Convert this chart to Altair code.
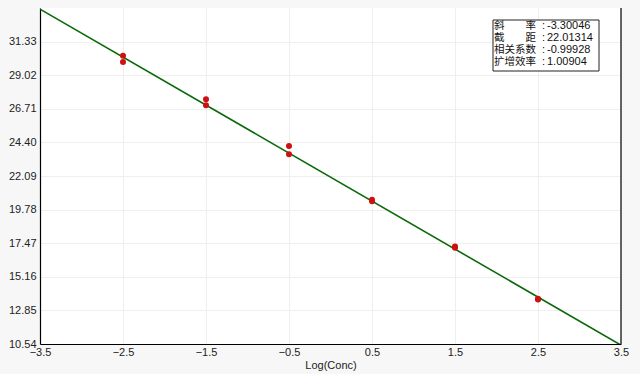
import altair as alt
import pandas as pd

# Standard curve data
log_conc = [-2.5, -2.5, -1.5, -1.5, -0.5, -0.5, 0.5, 0.5, 1.5, 1.5, 2.5, 2.5]
ct_values = [30.36, 29.93, 27.36, 26.95, 24.15, 23.58, 20.45, 20.35, 17.25, 17.15, 13.65, 13.60]

x_ticks = [-3.5, -2.5, -1.5, -0.5, 0.5, 1.5, 2.5, 3.5]
y_ticks = [10.54, 12.85, 15.16, 17.47, 19.78, 22.09, 24.40, 26.71, 29.02, 31.33]
y_domain = [10.54, 33.64]

slope = -3.30046
intercept = 22.01314
stat_labels = ["斜　　率", "截　　距", "相关系数", "扩增效率"]
stat_values = ["-3.30046", "22.01314", "-0.99928", "1.00904"]

pts = pd.DataFrame({"x": log_conc, "y": ct_values})
line_x = [-3.5, 3.5]
line_df = pd.DataFrame({"x": line_x, "y": [slope * v + intercept for v in line_x]})

W, H = 581, 336
FONT = "Liberation Sans"

xscale = alt.Scale(domain=[-3.5, 3.5], nice=False, zero=False)
yscale = alt.Scale(domain=y_domain, nice=False, zero=False)

xaxis = alt.Axis(values=x_ticks, format=".1f", title="Log(Conc)", ticks=False,
                 labelFontSize=11, titleFontSize=11, titleFontWeight="normal",
                 labelColor="#222", titleColor="#222", labelFont=FONT, titleFont=FONT,
                 domainColor="#000", domainWidth=1.2, gridColor="#efefef",
                 labelPadding=2, titlePadding=2, labelOverlap=False, labelFlush=False,
                 labelBound=False)
yaxis = alt.Axis(values=y_ticks, format=".2f", title=None, ticks=False,
                 labelFontSize=11, labelColor="#222", labelFont=FONT,
                 domainColor="#000", domainWidth=1.2, gridColor="#efefef",
                 labelPadding=4, labelOverlap=False, labelFlush=False, labelBound=False)

line = alt.Chart(line_df).mark_line(color="#0a6a0a", strokeWidth=1.6, clip=True).encode(
    x=alt.X("x:Q", scale=xscale, axis=xaxis),
    y=alt.Y("y:Q", scale=yscale, axis=yaxis),
)

points = alt.Chart(pts).mark_point(filled=True, color="#cc1111", size=36, opacity=1).encode(
    x=alt.X("x:Q", scale=xscale, axis=xaxis),
    y=alt.Y("y:Q", scale=yscale, axis=yaxis),
)

right_border = alt.Chart(pd.DataFrame({"x": [3.5]})).mark_rule(color="#000", strokeWidth=1.2).encode(
    x=alt.X("x:Q", scale=xscale, axis=xaxis)
)

box = alt.Chart(pd.DataFrame({"a": [0]})).mark_rect(
    fill="white", stroke="#222", strokeWidth=1
).encode(
    x=alt.value(453), x2=alt.value(559), y=alt.value(12), y2=alt.value(63)
)

stats = pd.DataFrame({"label": stat_labels, "value": stat_values})
stats["ypix"] = [18, 30, 42, 54]

lab_text = alt.Chart(stats).mark_text(
    align="left", baseline="middle", fontSize=10.5, font="Noto Sans CJK SC", color="#111"
).encode(x=alt.value(454), y=alt.Y("ypix:Q", scale=None), text="label:N")

colon_text = alt.Chart(stats).mark_text(
    align="left", baseline="middle", fontSize=11, font=FONT, color="#111"
).encode(x=alt.value(502), y=alt.Y("ypix:Q", scale=None), text=alt.value(":"))

val_text = alt.Chart(stats).mark_text(
    align="left", baseline="middle", fontSize=11, font=FONT, color="#111"
).encode(x=alt.value(507), y=alt.Y("ypix:Q", scale=None), text="value:N")

chart = alt.layer(line, right_border, points, box, lab_text, colon_text, val_text).properties(
    width=W, height=H,
    background="#f7f7f7",
    padding={"left": 40, "top": 8, "right": 19, "bottom": 30},
    autosize=alt.AutoSizeParams(type="none"),
).configure_view(stroke=None, fill="white").configure_axis(grid=True, labelOverlap=False)

chart.save("out.html", embed_options={"renderer": "svg", "actions": False})
